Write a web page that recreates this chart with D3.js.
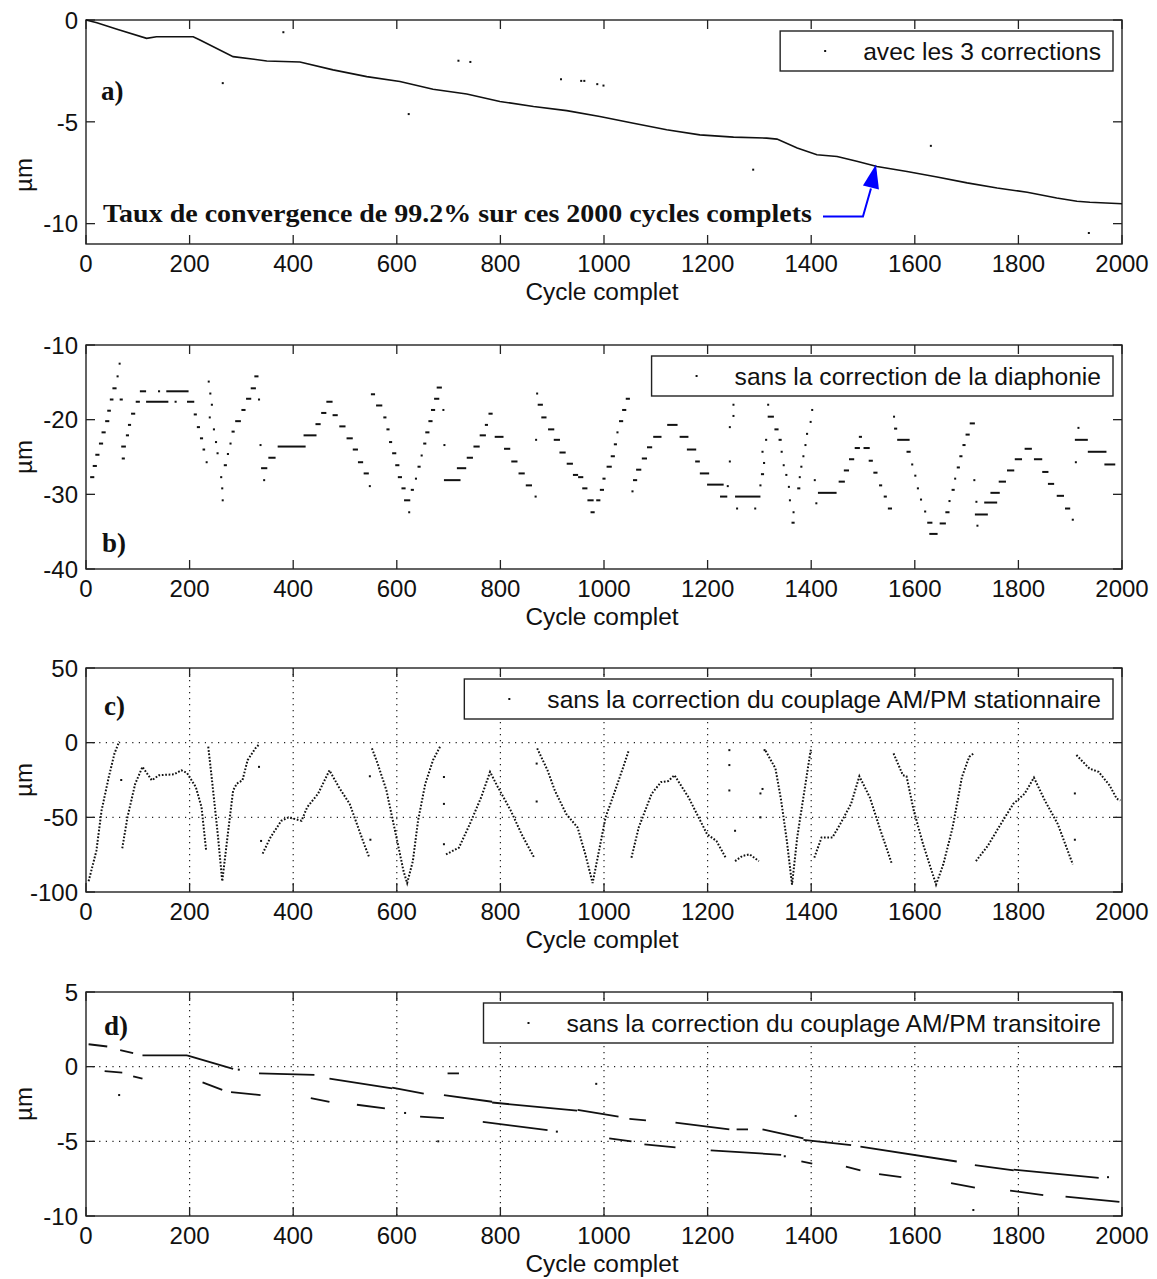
<!DOCTYPE html>
<html><head><meta charset="utf-8">
<script src="https://cdn.jsdelivr.net/npm/d3@7"></script>
<style>
body{margin:0;background:#fff;}
svg{display:block;}
text{font-family:"Liberation Sans",Arial,sans-serif;fill:#111;}
.serif{font-family:"Liberation Serif","Times New Roman",serif;font-weight:bold;}
</style></head><body>
<svg id="chart" width="1157" height="1279"></svg>
<script>
// ---------- tick labels / texts ----------
const xTickValues=[0,200,400,600,800,1000,1200,1400,1600,1800,2000];
const yTicksA=[0,-5,-10];
const yTicksB=[-10,-20,-30,-40];
const yTicksC=[50,0,-50,-100];
const yTicksD=[5,0,-5,-10];
const legendLabels=["avec les 3 corrections","sans la correction de la diaphonie","sans la correction du couplage AM/PM stationnaire","sans la correction du couplage AM/PM transitoire"];
const panelLetters=["a)","b)","c)","d)"];
const xAxisLabel="Cycle complet";
const yAxisLabel="µm";
const annotationText="Taux de convergence de 99.2% sur ces 2000 cycles complets";
const arrowTarget=[1525,-7.1];

// ---------- panel a: avec les 3 corrections ----------
const aX=[0,21,60,117,136,207,220,284,349,413,477,542,606,670,735,799,864,928,992,1057,1121,1185,1250,1314,1334,1373,1411,1450,1488,1527,1585,1643,1701,1759,1817,1874,1913,1938,2000];
const aY=[0,-0.13,-0.45,-0.9,-0.82,-0.82,-0.98,-1.8,-2.01,-2.06,-2.45,-2.78,-3.02,-3.4,-3.63,-4.0,-4.25,-4.45,-4.74,-5.07,-5.39,-5.64,-5.75,-5.8,-5.85,-6.29,-6.62,-6.7,-6.94,-7.19,-7.44,-7.71,-8.0,-8.25,-8.46,-8.74,-8.9,-8.95,-9.02];
const aOutX=[381,264,719,742,623,917,956,962,987,999,1288,1631,1936];
const aOutY=[-0.6,-3.1,-2.0,-2.06,-4.62,-2.91,-2.99,-2.99,-3.15,-3.22,-7.35,-6.18,-10.46];

// ---------- panel b: sans la correction de la diaphonie  [xStart, xEnd, value] ----------
const bSegs=[[8,16,-27.7],[13,21,-26.2],[18,26,-24.7],[25,33,-23.2],[30,38,-21.7],[37,45,-20.2],[41,48,-18.8],[46,53,-17.3],[51,59,-15.8],[59,63,-14.2],[63,65,-12.5],[65,71,-17.3],[68,77,-23.6],[69,75,-25.2],[77,83,-22.1],[81,87,-20.7],[87,95,-19.2],[96,104,-17.6],[104,116,-16.2],[116,159,-17.6],[139,143,-16.2],[155,198,-16.2],[171,175,-17.6],[195,209,-17.6],[208,214,-19.3],[214,220,-21.0],[220,226,-22.5],[225,230,-24.0],[231,233,-25.7],[235,237,-14.9],[238,242,-16.5],[241,245,-18.0],[237,239,-19.7],[245,249,-21.3],[249,253,-23.0],[252,256,-24.5],[259,263,-27.7],[261,265,-29.2],[262,264,-30.8],[266,272,-26.1],[272,276,-24.6],[277,281,-23.2],[281,287,-21.6],[288,299,-20.2],[300,308,-18.7],[309,319,-17.2],[318,328,-15.8],[325,333,-14.2],[332,336,-17.3],[335,337,-23.4],[338,350,-26.5],[342,344,-28.1],[352,366,-25.1],[370,424,-23.6],[420,445,-22.1],[443,453,-20.6],[454,464,-19.1],[464,476,-17.6],[476,486,-19.4],[489,501,-20.9],[503,515,-22.5],[515,525,-24.0],[525,535,-25.7],[536,546,-27.2],[546,548,-28.9],[550,558,-16.6],[560,572,-18.1],[574,580,-19.7],[580,586,-21.3],[585,591,-23.0],[591,599,-24.5],[597,605,-26.1],[602,610,-27.7],[609,617,-29.2],[614,626,-30.8],[622,624,-32.4],[627,633,-29.4],[635,639,-27.9],[640,646,-26.3],[646,650,-24.8],[651,657,-23.2],[655,663,-21.7],[661,669,-20.2],[666,674,-18.7],[672,682,-17.2],[677,687,-15.7],[688,690,-18.7],[690,692,-23.4],[691,723,-28.1],[716,734,-26.5],[735,747,-25.1],[748,760,-23.6],[760,772,-22.1],[770,776,-20.7],[777,785,-19.2],[789,806,-22.3],[807,819,-23.9],[821,833,-25.6],[835,847,-27.2],[849,861,-28.8],[866,870,-30.3],[867,869,-22.7],[869,871,-16.5],[872,882,-18.0],[879,889,-19.7],[892,904,-21.3],[903,915,-22.7],[914,926,-24.4],[928,940,-25.9],[940,950,-27.4],
[950,960,-27.7],[958,968,-29.2],[968,980,-30.8],[974,982,-32.4],[985,993,-30.8],[992,1000,-29.4],[997,1003,-27.9],[1005,1015,-26.3],[1013,1021,-24.9],[1019,1025,-23.3],[1024,1028,-21.7],[1029,1037,-20.2],[1035,1043,-18.7],[1042,1050,-17.2],[1053,1057,-29.6],[1056,1064,-28.1],[1062,1072,-26.7],[1073,1083,-25.2],[1083,1093,-23.7],[1095,1111,-22.3],[1122,1142,-20.7],[1146,1163,-22.3],[1160,1178,-24.0],[1176,1185,-25.6],[1185,1203,-27.2],[1199,1231,-28.7],[1224,1238,-30.3],[1237,1239,-28.9],[1241,1243,-25.6],[1241,1243,-21.0],[1248,1250,-19.5],[1248,1250,-18.0],[1253,1302,-30.3],[1255,1257,-31.9],[1290,1293,-31.9],[1300,1304,-28.8],[1303,1309,-27.3],[1307,1311,-25.8],[1304,1308,-24.3],[1311,1315,-22.7],[1315,1317,-18.0],[1316,1328,-19.6],[1329,1337,-21.3],[1337,1343,-22.7],[1341,1345,-24.3],[1345,1347,-26.1],[1350,1354,-27.4],[1355,1357,-29.0],[1357,1359,-30.8],[1364,1366,-32.4],[1362,1368,-33.8],[1373,1379,-29.2],[1376,1378,-27.7],[1379,1383,-26.3],[1383,1385,-24.9],[1387,1389,-23.4],[1390,1394,-21.9],[1397,1399,-20.3],[1400,1402,-18.7],[1405,1407,-28.1],[1408,1410,-31.2],[1413,1449,-29.8],[1453,1465,-28.3],[1463,1473,-26.8],[1473,1483,-25.3],[1484,1494,-23.8],[1492,1498,-22.3],[1501,1513,-23.8],[1511,1519,-25.5],[1520,1528,-27.1],[1531,1537,-28.8],[1540,1546,-30.3],[1548,1556,-31.9],[1558,1560,-19.6],[1560,1566,-21.2],[1566,1590,-22.7],[1584,1592,-24.3],[1593,1597,-26.0],[1599,1603,-27.5],[1604,1608,-29.2],[1610,1614,-30.7],[1618,1622,-32.3],[1624,1634,-33.8],[1628,1644,-35.3],[1648,1660,-33.9],[1659,1667,-32.4],[1665,1669,-30.9],[1671,1677,-29.4],[1676,1678,-27.9],[1681,1687,-26.4],[1686,1692,-24.9],[1692,1698,-23.4],[1698,1706,-22.0],[1706,1716,-20.5],[1713,1715,-28.1],[1717,1719,-31.0],[1734,1759,-31.1],[1716,1741,-32.7],[1719,1721,-34.2],[1746,1764,-29.8],[1762,1776,-28.3],[1778,1792,-26.8],[1793,1807,-25.3],[1812,1826,-23.9],[1830,1846,-25.3],[1846,1858,-27.0],[1857,1869,-28.6],[1874,1888,-30.2],[1890,1900,-31.9],[1903,1907,-33.4],[1909,1911,-25.7],[1914,1916,-21.1],[1909,1934,-22.7],[1934,1970,-24.3],[1966,1987,-26.0]];

// ---------- panel c: sans la correction du couplage AM/PM stationnaire (polylines of [x, value]) ----------
const cCurves=[
 [[5,-92.8],[20,-72.5],[30,-45.5],[44,-23],[55,-7.2],[64,0.7]],
 [[70,-70.7],[80,-50],[95,-27.5],[109,-16.2],[127,-25.2],[141,-21.8],[170,-21.2],[184,-18.5],[195,-20.3],[212,-29.7],[223,-43.2],[232,-72.5]],
 [[236,-2.7],[244,-27.5],[255,-63.5],[263,-92.8],[273,-63.5],[284,-32],[291,-27.5],[302,-25.2],[312,-11.7],[327,-3.8],[333,-1.6]],
 [[341,-74.3],[356,-63.5],[377,-52.3],[391,-50],[416,-52.3],[427,-43.2],[448,-34.2],[470,-18.5],[488,-29.7],[509,-41],[523,-54.5],[537,-68],[547,-77]],
 [[552,-3.8],[563,-14],[580,-32],[598,-61.3],[613,-86],[620,-94],[631,-79.3],[641,-52.3],[655,-27.5],[670,-11.7],[684,-2.3]],
 [[695,-74.8],[720,-70.3],[741,-54.5],[763,-36.5],[780,-19.6],[795,-29.7],[820,-45.5],[841,-61.3],[866,-77.5]],
 [[871,-3.8],[891,-18.5],[905,-32],[927,-47.7],[949,-56.8],[964,-74.8],[978,-94],[989,-74.8],[1003,-50],[1017,-36.5],[1035,-18.5],[1048,-5]],
 [[1053,-77],[1067,-56.8],[1092,-34.2],[1110,-26.4],[1124,-25.7],[1136,-21.8],[1163,-36.5],[1199,-61.3],[1217,-65.8],[1235,-77]],
 [[1253,-79.3],[1267,-75.9],[1281,-74.8],[1299,-79.3]],
 [[1312,-5.4],[1331,-17.3],[1342,-38.7],[1353,-65.8],[1363,-95],[1373,-63.5],[1386,-34.2],[1398,-7.2],[1400,-3.8]],
 [[1406,-77],[1420,-63.5],[1441,-63.5],[1456,-54.5],[1477,-41],[1493,-22.5],[1513,-36.5],[1534,-59],[1555,-80.4]],
 [[1559,-7.2],[1577,-21.8],[1584,-22.5],[1598,-45.5],[1616,-68],[1641,-95],[1655,-81.5],[1673,-56.8],[1691,-23],[1705,-9.5],[1715,-6.8]],
 [[1718,-79.3],[1741,-69],[1762,-56.8],[1790,-41],[1812,-34.2],[1830,-23.4],[1851,-38.7],[1876,-54.5],[1905,-81.5]],
 [[1912,-8.3],[1937,-17.3],[1955,-19.6],[1976,-28.6],[1990,-37.6],[1997,-38.7]]
];
const cOutX=[68,334,338,548,549,691,691,691,870,870,1242,1242,1242,1253,1302,1302,1306,1310,1909,1909];
const cOutY=[-25,-16.2,-65.8,-22.5,-65,-23,-41,-68,-39.4,-14,-15,-32,-5,-59,-34,-50,-31,-5,-34,-65];

// ---------- panel d: sans la correction du couplage AM/PM transitoire  [x0, x1, v0, v1] ----------
const dSegs=[[5,41,1.5,1.35],[66,91,1.1,0.9],[109,195,0.75,0.75],[195,284,0.75,-0.15],[36,70,-0.3,-0.4],[91,109,-0.65,-0.8],[225,263,-1.05,-1.55],[280,337,-1.7,-1.9],[334,441,-0.45,-0.55],[434,470,-2.1,-2.35],[470,591,-0.8,-1.45],[523,577,-2.55,-2.8],[591,652,-1.4,-1.8],[645,691,-3.35,-3.45],[698,720,-0.45,-0.45],[691,784,-1.9,-2.35],[784,948,-2.4,-2.95],[766,891,-3.7,-4.25],[949,1028,-2.9,-3.35],[1049,1081,-3.5,-3.6],[1010,1053,-4.8,-5.0],[1078,1138,-5.2,-5.4],[1138,1242,-3.75,-4.2],[1256,1278,-4.2,-4.2],[1306,1385,-4.2,-4.8],[1385,1477,-4.9,-5.25],[1206,1342,-5.6,-5.9],[1381,1402,-6.35,-6.5],[1467,1495,-6.7,-6.95],[1495,1681,-5.35,-6.35],[1531,1574,-7.2,-7.4],[1670,1716,-7.8,-8.1],[1716,1791,-6.6,-6.95],[1791,1955,-6.9,-7.45],[1784,1848,-8.3,-8.6],[1891,1995,-8.7,-9.05]];
const dOutX=[295,64,616,680,909,985,1349,1370,1713,1973];
const dOutY=[-0.2,-1.9,-3.1,-5,-4.35,-1.15,-6,-3.3,-9.6,-7.4];

// ---------- layout ----------
const svg=d3.select("#chart");
const X0=86, X1=1122, H=224, TL=9;
const panelTops=[20,345,668,992];
const domains=[[-11,0],[-40,-10],[-100,50],[-10,5]];
const yTickSets=[yTicksA,yTicksB,yTicksC,yTicksD];
const gridOn=[false,false,true,true];
const yLabelCenters=[175,457,780,1104];
const letterPos=[[101,100],[102,552],[104,715],[104,1035]];
const x=d3.scaleLinear().domain([0,2000]).range([X0,X1]);

const scales=panelTops.map((top,i)=>{
  const y=d3.scaleLinear().domain(domains[i]).range([top+H,top]);
  const g=svg.append("g");
  if(gridOn[i]){
    g.selectAll(".gx").data(xTickValues.slice(1,-1)).join("line")
      .attr("x1",d=>x(d)).attr("x2",d=>x(d)).attr("y1",top).attr("y2",top+H)
      .attr("stroke","#222").attr("stroke-width",1.2).attr("stroke-dasharray","1.2,4.8");
    g.selectAll(".gy").data(yTickSets[i].slice(1,-1)).join("line")
      .attr("y1",d=>y(d)).attr("y2",d=>y(d)).attr("x1",X0).attr("x2",X1)
      .attr("stroke","#222").attr("stroke-width",1.2).attr("stroke-dasharray","1.2,5.4");
  }
  xTickValues.forEach(v=>{
    g.append("line").attr("x1",x(v)).attr("x2",x(v)).attr("y1",top+H).attr("y2",top+H-TL).attr("stroke","#222").attr("stroke-width",1.3);
    g.append("line").attr("x1",x(v)).attr("x2",x(v)).attr("y1",top).attr("y2",top+TL).attr("stroke","#222").attr("stroke-width",1.3);
  });
  yTickSets[i].forEach(v=>{
    g.append("line").attr("x1",X0).attr("x2",X0+TL).attr("y1",y(v)).attr("y2",y(v)).attr("stroke","#222").attr("stroke-width",1.3);
    g.append("line").attr("x1",X1).attr("x2",X1-TL).attr("y1",y(v)).attr("y2",y(v)).attr("stroke","#222").attr("stroke-width",1.3);
  });
  g.append("rect").attr("x",X0).attr("y",top).attr("width",X1-X0).attr("height",H)
    .attr("fill","none").attr("stroke","#222").attr("stroke-width",1.4);
  g.selectAll(".xl").data(xTickValues).join("text")
    .attr("x",d=>x(d)).attr("y",top+H+28).attr("text-anchor","middle").attr("font-size",24).text(d=>d);
  g.selectAll(".yl").data(yTickSets[i]).join("text")
    .attr("x",X0-8).attr("y",d=>y(d)+8.7).attr("text-anchor","end").attr("font-size",24).text(d=>d);
  g.append("text").attr("x",(X0+X1)/2-2).attr("y",top+H+56).attr("text-anchor","middle").attr("font-size",24.4).text(xAxisLabel);
  g.append("text").attr("transform",`translate(32,${yLabelCenters[i]}) rotate(-90)`).attr("text-anchor","middle").attr("font-size",24).text(yAxisLabel);
  g.append("text").attr("class","serif").attr("x",letterPos[i][0]).attr("y",letterPos[i][1]).attr("font-size",27).text(panelLetters[i]);
  return {y,g,top};
});

// legends
scales.forEach((s,i)=>{
  const bt=s.top+11, bh=40, right=1113;
  const lg=s.g.append("g");
  const box=lg.append("rect").attr("y",bt).attr("height",bh).attr("fill","#fff").attr("stroke","#222").attr("stroke-width",1.4);
  const t=lg.append("text").attr("x",right-12).attr("y",bt+29).attr("text-anchor","end").attr("font-size",24.6).text(legendLabels[i]);
  const w=t.node().getComputedTextLength();
  const ts=right-12-w;
  box.attr("x",ts-83).attr("width",right-(ts-83));
  lg.append("rect").attr("x",ts-39).attr("y",bt+19).attr("width",2).attr("height",2).attr("fill","#111");
});

// panel a
{
  const {y,g}=scales[0];
  const pts=aX.map((v,k)=>[v,aY[k]]);
  g.append("path").attr("d",d3.line().x(d=>x(d[0])).y(d=>y(d[1]))(pts))
    .attr("fill","none").attr("stroke","#111").attr("stroke-width",1.6);
  g.selectAll(".ao").data(aOutX.map((v,k)=>[v,aOutY[k]])).join("rect")
    .attr("x",d=>x(d[0])-1).attr("y",d=>y(d[1])-1).attr("width",2).attr("height",2).attr("fill","#111");
  g.append("text").attr("class","serif").attr("x",103).attr("y",222).attr("font-size",26)
    .attr("textLength",709).attr("lengthAdjust","spacingAndGlyphs").text(annotationText);
  const tx=x(arrowTarget[0]), ty=y(arrowTarget[1]);
  g.append("polyline").attr("points",`823,216.5 ${tx-13},216.5 ${tx-5},${ty+24}`)
    .attr("fill","none").attr("stroke","#0000ff").attr("stroke-width",2);
  g.append("polygon").attr("points",`${tx},${ty} ${tx-13},${ty+21} ${tx+3},${ty+25}`).attr("fill","#0000ff");
}

// panel b
{
  const {y,g}=scales[1];
  g.selectAll(".bs").data(bSegs).join("rect")
    .attr("x",d=>x(d[0])).attr("width",d=>Math.max(2,x(d[1])-x(d[0])))
    .attr("y",d=>y(d[2])-1).attr("height",2).attr("fill","#111");
}

// panel c
{
  const {y,g}=scales[2];
  const ln=d3.line().x(d=>x(d[0])).y(d=>y(d[1]));
  g.selectAll(".cc").data(cCurves).join("path").attr("d",ln)
    .attr("fill","none").attr("stroke","#111").attr("stroke-width",2).attr("stroke-dasharray","1.7,1.7");
  g.selectAll(".co").data(cOutX.map((v,k)=>[v,cOutY[k]])).join("rect")
    .attr("x",d=>x(d[0])-1).attr("y",d=>y(d[1])-1).attr("width",2).attr("height",2).attr("fill","#111");
}

// panel d
{
  const {y,g}=scales[3];
  g.selectAll(".ds").data(dSegs).join("line")
    .attr("x1",d=>x(d[0])).attr("x2",d=>x(d[1])).attr("y1",d=>y(d[2])).attr("y2",d=>y(d[3]))
    .attr("stroke","#111").attr("stroke-width",1.8);
  g.selectAll(".do").data(dOutX.map((v,k)=>[v,dOutY[k]])).join("rect")
    .attr("x",d=>x(d[0])-1).attr("y",d=>y(d[1])-1).attr("width",2).attr("height",2).attr("fill","#111");
}
</script></body></html>
